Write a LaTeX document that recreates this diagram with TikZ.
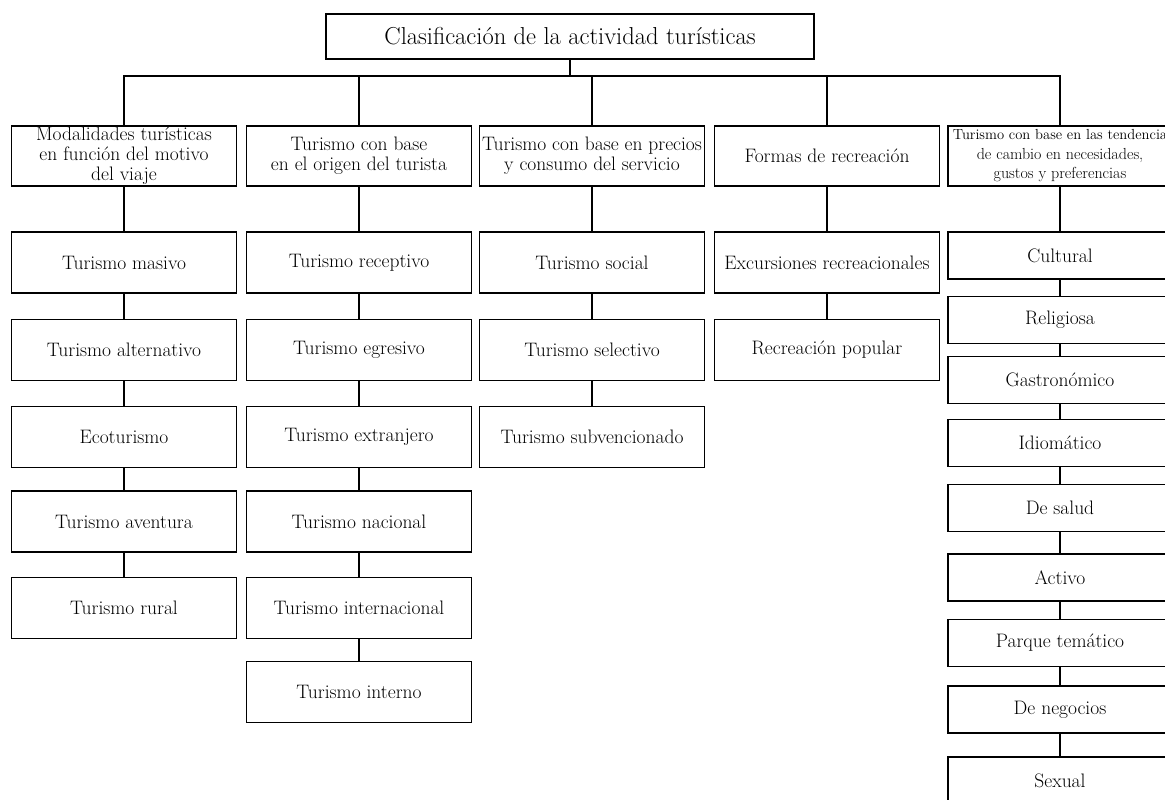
\documentclass[tikz,border=0pt]{standalone}
\usepackage{fontspec}
\begin{document}
\begin{tikzpicture}[x=1pt,y=-1pt,
  box/.style={draw, line width=1.8pt, rectangle, align=center, inner xsep=2pt, inner ysep=0pt,
              font=\fontsize{19.5}{20}\selectfont},
  topbox/.style={box, minimum width=488pt, minimum height=45pt, font=\fontsize{24.5}{28}\selectfont},
  headbox/.style={box, minimum width=225pt, minimum height=60pt},
  colbox/.style={box, minimum width=225pt, minimum height=61pt},
  rbox/.style={box, minimum width=224pt, minimum height=47pt},
  conn/.style={line width=1.4pt}]
\useasboundingbox (0,0) rectangle (1165,800);
\clip (0,0) rectangle (1165,800);

% top
\node[topbox] (top) at (570,36.5) {Clasificación de la actividad turísticas};

% headers
\node[headbox] (m1) at (124,156) {Modalidades turísticas\\en función del motivo\\del viaje};
\node[headbox] (m2) at (359,156) {Turismo con base\\en el origen del turista};
\node[headbox] (m3) at (592,156) {Turismo con base en precios\\y consumo del servicio};
\node[headbox] (m4) at (827,156) {Formas de recreación};
\node[headbox, minimum width=224pt, font=\fontsize{16}{19.5}\selectfont] (m5) at (1060,156)
  {{\fontsize{14.6}{19.5}\selectfont Turismo con base en las tendencia}\\de cambio en necesidades,\\gustos y preferencias};

% column 1
\node[colbox] (a1) at (124,262.5) {Turismo masivo};
\node[colbox] (a2) at (124,350) {Turismo alternativo};
\node[colbox] (a3) at (124,437) {Ecoturismo};
\node[colbox] (a4) at (124,521.5) {Turismo aventura};
\node[colbox] (a5) at (124,608) {Turismo rural};

% column 2
\node[colbox] (b1) at (359,262.5) {Turismo receptivo};
\node[colbox] (b2) at (359,350) {Turismo egresivo};
\node[colbox] (b3) at (359,437) {Turismo extranjero};
\node[colbox] (b4) at (359,521.5) {Turismo nacional};
\node[colbox] (b5) at (359,608) {Turismo internacional};
\node[colbox] (b6) at (359,692) {Turismo interno};

% column 3
\node[colbox] (c1) at (592,262.5) {Turismo social};
\node[colbox] (c2) at (592,350) {Turismo selectivo};
\node[colbox] (c3) at (592,437) {Turismo subvencionado};

% column 4
\node[colbox] (d1) at (827,262.5) {Excursiones recreacionales};
\node[colbox] (d2) at (827,350) {Recreación popular};

% column 5
\node[rbox] (e1) at (1060,255.5) {Cultural};
\node[rbox] (e2) at (1060,320) {Religiosa};
\node[rbox] (e3) at (1060,380) {Gastronómico};
\node[rbox] (e4) at (1060,443) {Idiomático};
\node[rbox] (e5) at (1060,508) {De salud};
\node[rbox] (e6) at (1060,577.5) {Activo};
\node[rbox] (e7) at (1060,643) {Parque temático};
\node[rbox] (e8) at (1060,709.5) {De negocios};
\node[rbox] (e9) at (1060,780.5) {Sexual};

% bus
\coordinate (bus) at (0,76);
\draw[conn] (top.south) -- (top.south |- bus);
\draw[conn] (m1.north) -- (m1.north |- bus) -- (m5.north |- bus) -- (m5.north);
\draw[conn] (m2.north) -- (m2.north |- bus);
\draw[conn] (m3.north) -- (m3.north |- bus);
\draw[conn] (m4.north) -- (m4.north |- bus);

% chains
\draw[conn] (m1.south) -- (a1.north);
\draw[conn] (a1.south) -- (a2.north);
\draw[conn] (a2.south) -- (a3.north);
\draw[conn] (a3.south) -- (a4.north);
\draw[conn] (a4.south) -- (a5.north);

\draw[conn] (m2.south) -- (b1.north);
\draw[conn] (b1.south) -- (b2.north);
\draw[conn] (b2.south) -- (b3.north);
\draw[conn] (b3.south) -- (b4.north);
\draw[conn] (b4.south) -- (b5.north);
\draw[conn] (b5.south) -- (b6.north);

\draw[conn] (m3.south) -- (c1.north);
\draw[conn] (c1.south) -- (c2.north);
\draw[conn] (c2.south) -- (c3.north);

\draw[conn] (m4.south) -- (d1.north);
\draw[conn] (d1.south) -- (d2.north);

\draw[conn] (m5.south) -- (e1.north);
\draw[conn] (e1.south) -- (e2.north);
\draw[conn] (e2.south) -- (e3.north);
\draw[conn] (e3.south) -- (e4.north);
\draw[conn] (e4.south) -- (e5.north);
\draw[conn] (e5.south) -- (e6.north);
\draw[conn] (e6.south) -- (e7.north);
\draw[conn] (e7.south) -- (e8.north);
\draw[conn] (e8.south) -- (e9.north);
\end{tikzpicture}
\end{document}
